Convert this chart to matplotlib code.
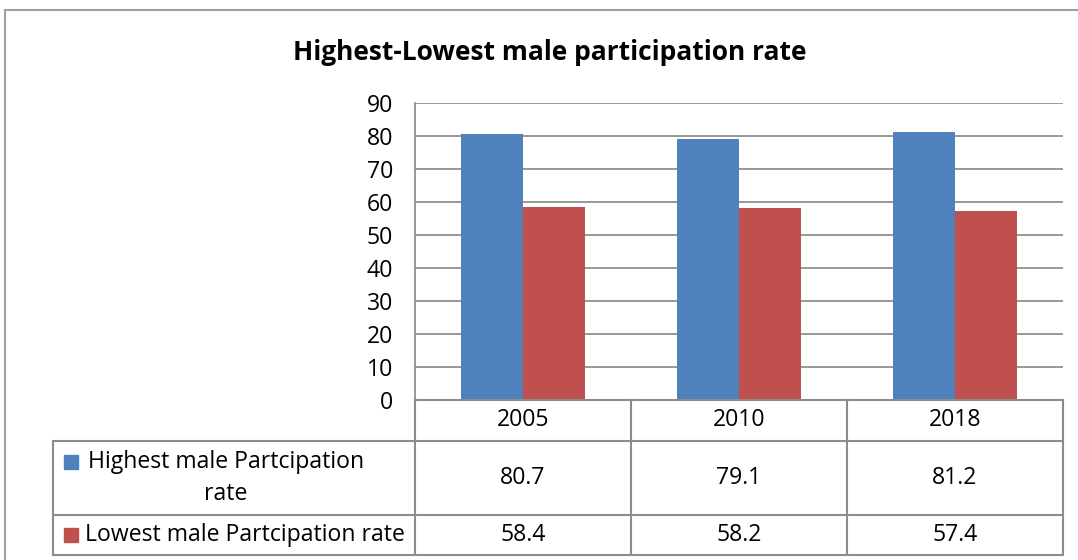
import numpy as np
import matplotlib
matplotlib.use("Agg")
import matplotlib.pyplot as plt
from matplotlib.lines import Line2D
from matplotlib.patches import Rectangle
from matplotlib.transforms import blended_transform_factory

years = ["2005", "2010", "2018"]
highest = [80.7, 79.1, 81.2]
lowest = [58.4, 58.2, 57.4]
series_names = ["Highest male Partcipation\nrate", "Lowest male Partcipation rate"]
title = "Highest-Lowest male participation rate"

BLUE = "#4F81BD"
RED = "#C0504D"
GRID = "#868686"
LINE = "#8C8C8C"
FONT = "Open Sans"
FS = 16.6

W, H = 1078, 560
fig = plt.figure(figsize=(W / 100, H / 100), dpi=100)


def fx(x):
    return x / W


def fy(y):
    return 1 - y / H


# outer chart frame (top and left edges visible)
fig.add_artist(Line2D([fx(5), fx(W)], [fy(9.5), fy(9.5)], color="#A0A0A0", lw=1.5,
                      transform=fig.transFigure))
fig.add_artist(Line2D([fx(5), fx(5)], [fy(9.5), fy(H)], color="#A0A0A0", lw=1.5,
                      transform=fig.transFigure))

fig.text(fx(550), fy(52), title, ha="center", va="center", fontsize=19,
         fontweight="bold", family=FONT)

ax = fig.add_axes([fx(415), fy(400), fx(1063) - fx(415), fy(103) - fy(400)])
x = np.arange(len(years))
bw = 0.285
ax.bar(x - bw / 2, highest, bw, color=BLUE, zorder=3)
ax.bar(x + bw / 2, lowest, bw, color=RED, zorder=3)
ax.set_xlim(-0.5, len(years) - 0.5)
ax.set_ylim(0, 90)
ax.set_yticks(np.arange(0, 91, 10))
ax.yaxis.grid(True, color=GRID, lw=1.2, zorder=0)
ax.set_xticks([])
ax.tick_params(axis="y", length=0, pad=16, labelsize=FS)
for lab in ax.get_yticklabels():
    lab.set_family(FONT)
for s in ["top", "right", "bottom"]:
    ax.spines[s].set_visible(False)
ax.spines["left"].set_color(GRID)
ax.spines["left"].set_linewidth(1.2)

# data table under the axis
tr = blended_transform_factory(ax.transData, fig.transFigure)
edges = np.arange(len(years) + 1) - 0.5
y_head, y_r1, y_r2, y_bot = 400, 441, 515, 555
for e in edges:
    ax.add_artist(Line2D([e, e], [fy(y_head), fy(y_bot)], color=LINE, lw=1.5,
                         transform=tr, clip_on=False))
fig.add_artist(Line2D([fx(53), fx(53)], [fy(y_r1), fy(y_bot)], color=LINE, lw=1.5,
                      transform=fig.transFigure))
for yy, x0 in [(y_head, 415), (y_r1, 53), (y_r2, 53), (y_bot, 53)]:
    fig.add_artist(Line2D([fx(x0), fx(1063)], [fy(yy), fy(yy)], color=LINE, lw=1.5,
                          transform=fig.transFigure))

for i, yr in enumerate(years):
    ax.text(i, fy((y_head + y_r1) / 2), yr, transform=tr, ha="center", va="center",
            fontsize=FS, family=FONT)
    ax.text(i, fy((y_r1 + y_r2) / 2), f"{highest[i]:.1f}", transform=tr, ha="center",
            va="center", fontsize=FS, family=FONT)
    ax.text(i, fy((y_r2 + y_bot) / 2), f"{lowest[i]:.1f}", transform=tr, ha="center",
            va="center", fontsize=FS, family=FONT)

# row headers with legend swatches
fig.add_artist(Rectangle((fx(64), fy(469)), fx(14), fy(455) - fy(469), color=BLUE,
                         transform=fig.transFigure))
fig.text(fx(226), fy(478), series_names[0], ha="center", va="center", fontsize=FS,
         family=FONT, multialignment="center", linespacing=1.45)
fig.add_artist(Rectangle((fx(64), fy(542)), fx(14), fy(528) - fy(542), color=RED,
                         transform=fig.transFigure))
fig.text(fx(85), fy(535), series_names[1], ha="left", va="center", fontsize=FS,
         family=FONT)

fig.savefig("out.png", dpi=100)
